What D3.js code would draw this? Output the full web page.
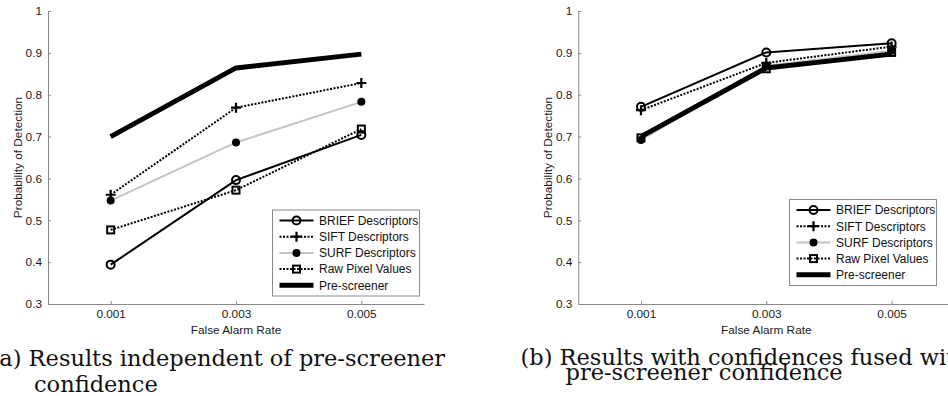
<!DOCTYPE html>
<html>
<head>
<meta charset="utf-8">
<script src="https://cdn.jsdelivr.net/npm/d3@7"></script>
<style>
  body { margin: 0; background: #fff; }
  svg { display: block; }
</style>
</head>
<body>
<svg id="chart" width="948" height="396"></svg>
<script>
// ---- data ----
var xTicks = [0.001, 0.003, 0.005];
var yTicks = [0.3, 0.4, 0.5, 0.6, 0.7, 0.8, 0.9, 1];
var seriesNames = ["BRIEF Descriptors", "SIFT Descriptors", "SURF Descriptors", "Raw Pixel Values", "Pre-screener"];

// (a) independent of pre-screener confidence
var aBrief = [0.394, 0.596, 0.704];
var aSift  = [0.561, 0.769, 0.828];
var aSurf  = [0.547, 0.686, 0.783];
var aRaw   = [0.477, 0.572, 0.718];
var aPre   = [0.700, 0.864, 0.897];

// (b) fused with pre-screener confidence
var bBrief = [0.771, 0.901, 0.923];
var bSift  = [0.763, 0.876, 0.915];
var bSurf  = [0.692, 0.869, 0.905];
var bRaw   = [0.697, 0.862, 0.901];
var bPre   = [0.700, 0.864, 0.897];

var svg = d3.select("#chart");
var plotW = 376, plotH = 293;

// line + marker styles per series
var styles = [
  {color: "#000", width: 2,   dash: null,    marker: "circle"},
  {color: "#000", width: 2,   dash: "2,1.5", marker: "plus"},
  {color: "#c4c4c4", width: 2, dash: null,   marker: "dot"},
  {color: "#000", width: 2,   dash: "2,1.5", marker: "square"},
  {color: "#000", width: 5,   dash: null,    marker: null}
];

function drawMarker(g, type, x, y) {
  if (type == "circle") {
    g.append("circle").attr("cx", x).attr("cy", y).attr("r", 4)
      .attr("fill", "none").attr("stroke", "#000").attr("stroke-width", 2);
  } else if (type == "plus") {
    g.append("path").attr("d", `M${x-5},${y}H${x+5}M${x},${y-5}V${y+5}`)
      .attr("stroke", "#000").attr("stroke-width", 2.2);
  } else if (type == "dot") {
    g.append("circle").attr("cx", x).attr("cy", y).attr("r", 4).attr("fill", "#000");
  } else if (type == "square") {
    g.append("rect").attr("x", x-3.5).attr("y", y-3.5).attr("width", 7).attr("height", 7)
      .attr("fill", "none").attr("stroke", "#000").attr("stroke-width", 2);
  }
}

function panel(left, top, series, legendX, legendY) {
  var g = svg.append("g").attr("transform", `translate(${left},${top})`);

  var x = d3.scaleLinear().domain([0, 0.006]).range([0, plotW]);
  var y = d3.scaleLinear().domain([0.3, 1]).range([plotH, 0]);

  // axes
  g.append("g")
    .call(d3.axisLeft(y).tickValues(yTicks).tickSizeInner(-3).tickSizeOuter(0).tickPadding(6)
      .tickFormat(d3.format("~g")));
  g.append("g")
    .attr("transform", `translate(0,${plotH})`)
    .call(d3.axisBottom(x).tickValues(xTicks).tickSizeInner(-3).tickSizeOuter(0).tickPadding(6)
      .tickFormat(d3.format(".3f")));
  g.selectAll(".domain, .tick line").attr("stroke", "#8a8a8a");
  g.selectAll(".tick text").attr("fill", "#1a1a1a")
    .style("font-family", "'Liberation Sans', Arial, sans-serif").style("font-size", "11.8px");

  // axis labels
  g.append("text")
    .attr("x", x(0.003)).attr("y", plotH + 29.5)
    .attr("text-anchor", "middle")
    .style("font-family", "'Liberation Sans', Arial, sans-serif").style("font-size", "11.8px")
    .attr("fill", "#1a1a1a")
    .text("False Alarm Rate");
  g.append("text")
    .attr("transform", `translate(-26,${plotH/2}) rotate(-90)`)
    .attr("text-anchor", "middle")
    .style("font-family", "'Liberation Sans', Arial, sans-serif").style("font-size", "11.8px")
    .attr("fill", "#1a1a1a")
    .text("Probability of Detection");

  // lines
  var line = d3.line().x(function(d, i) { return x(xTicks[i]); }).y(function(d) { return y(d); });
  series.forEach(function(vals, k) {
    var s = styles[k];
    var p = g.append("path").datum(vals).attr("d", line)
      .attr("fill", "none").attr("stroke", s.color).attr("stroke-width", s.width)
      .attr("stroke-linejoin", "round");
    if (s.dash) p.attr("stroke-dasharray", s.dash);
    if (s.marker) vals.forEach(function(v, i) { drawMarker(g, s.marker, x(xTicks[i]), y(v)); });
  });

  // legend
  var lg = svg.append("g").attr("transform", `translate(${legendX},${legendY})`);
  lg.append("rect").attr("width", 147).attr("height", 86)
    .attr("fill", "#fff").attr("stroke", "#8a8a8a").attr("stroke-width", 1);
  seriesNames.forEach(function(name, k) {
    var s = styles[k];
    var ry = 10.5 + k * 16.2;
    var l = lg.append("line").attr("x1", 7).attr("x2", 41).attr("y1", ry).attr("y2", ry)
      .attr("stroke", s.color).attr("stroke-width", s.width);
    if (s.dash) l.attr("stroke-dasharray", s.dash);
    if (s.marker) drawMarker(lg, s.marker, 24, ry);
    lg.append("text").attr("x", 46.5).attr("y", ry + 4.3)
      .style("font-family", "'Liberation Sans', Arial, sans-serif").style("font-size", "12px")
      .attr("fill", "#111")
      .text(name);
  });
}

panel(48, 11, [aBrief, aSift, aSurf, aRaw, aPre], 272.5, 210);
panel(578.3, 11, [bBrief, bSift, bSurf, bRaw, bPre], 789.5, 199.5);

// captions
var capFont = "'DejaVu Serif', 'Liberation Serif', serif";
function caption(x, y, txt) {
  svg.append("text").attr("x", x).attr("y", y)
    .style("font-family", capFont).style("font-size", "22.5px").attr("fill", "#111")
    .text(txt);
}
caption(-9.5, 366, "(a) Results independent of pre-screener");
caption(34, 392, "confidence");
caption(520.5, 364.5, "(b) Results with confidences fused with");
caption(565.5, 380, "pre-screener confidence");
</script>
</body>
</html>
